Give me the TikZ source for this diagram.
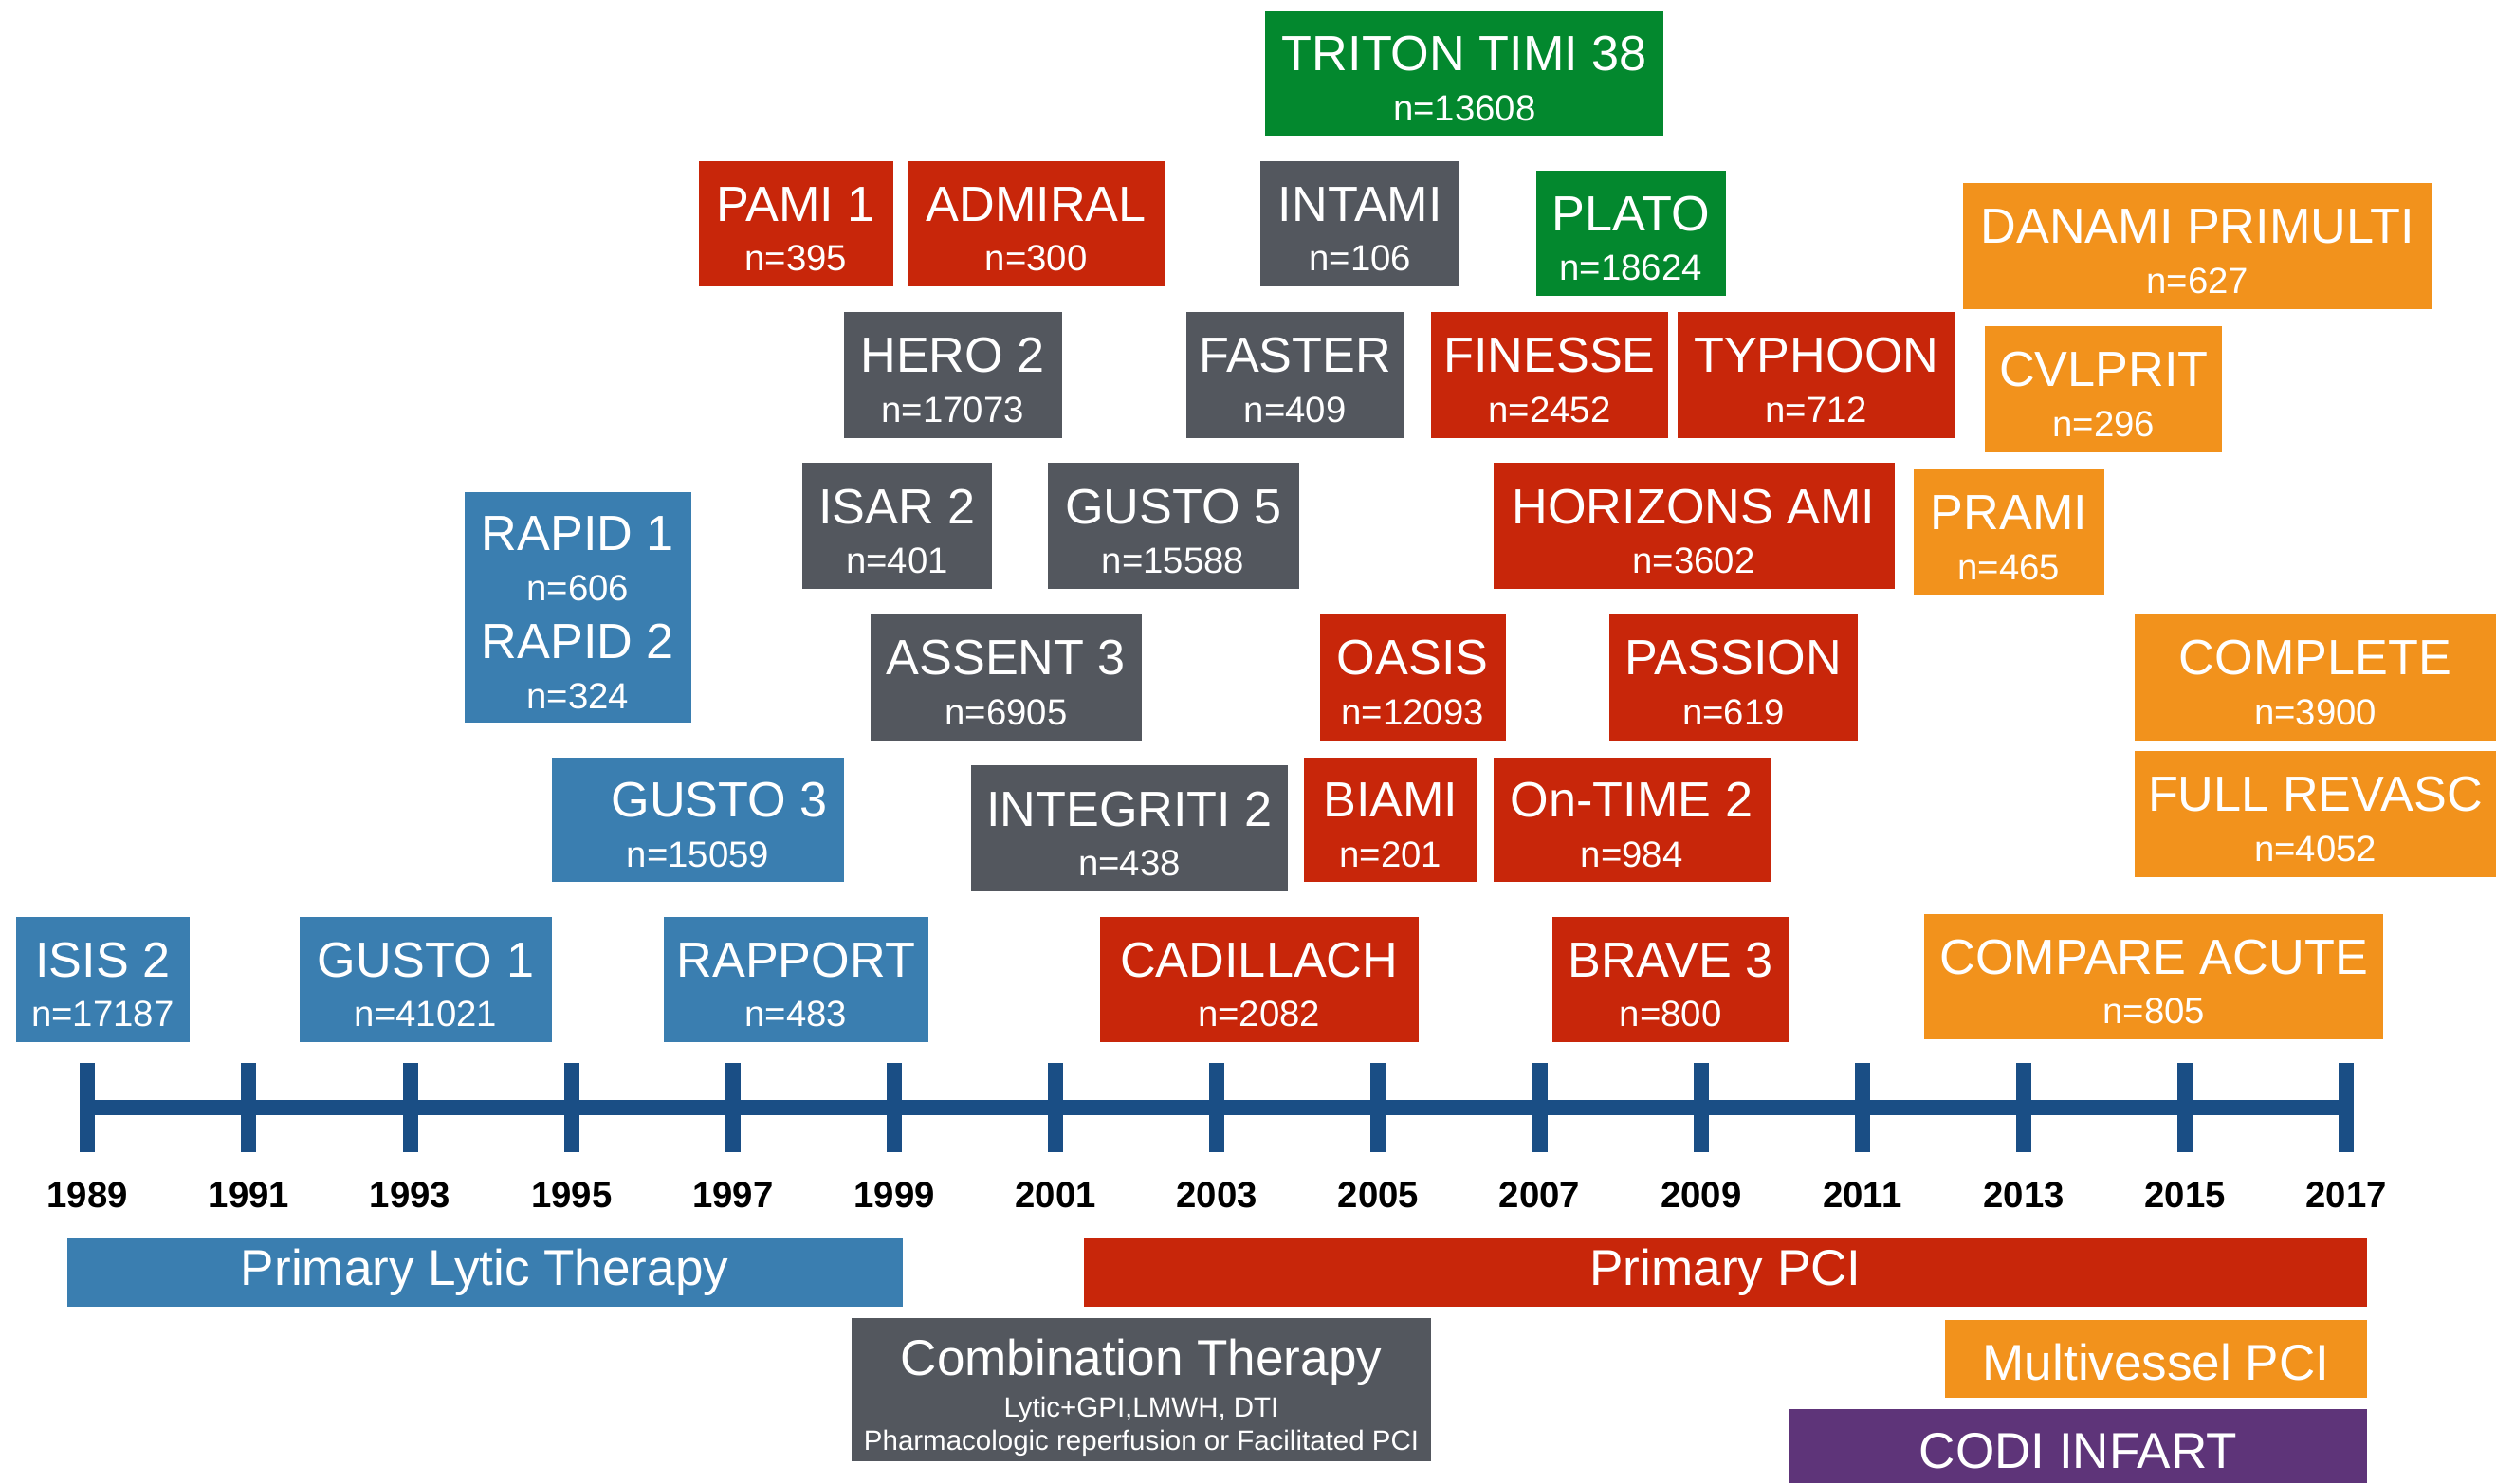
\documentclass[tikz,border=0pt]{standalone}
\usepackage{fontspec}
\setmainfont{Liberation Sans}
\usetikzlibrary{positioning}
\definecolor{lyblue}{HTML}{3A7EB0}
\definecolor{pcired}{HTML}{C8260A}
\definecolor{combgray}{HTML}{53575E}
\definecolor{pgreen}{HTML}{03882E}
\definecolor{mvorange}{HTML}{F2921C}
\definecolor{codipurple}{HTML}{5E3479}
\definecolor{axisblue}{HTML}{1A4E85}
\newlength{\upx}
\setlength{\upx}{0.02cm}
% trial name line, with a strut that pushes the text block down a little
\newcommand{\tname}[1]{{\fontsize{17.7}{17.8}\selectfont\rule{0pt}{16.1pt}#1}}

\begin{document}
\begin{tikzpicture}[x=0.02cm, y=-0.02cm,
    trial/.style={inner sep=0pt, text=white, align=center,
                  minimum height=79\upx, font=\fontsize{13}{17.8}\selectfont},
    wd/.style={minimum width=#1\upx},
    ht/.style={minimum height=#1\upx},
    era/.style={inner sep=0pt, text=white, align=center,
                font=\fontsize{18}{21}\selectfont},
    lytic/.style={fill=lyblue}, pci/.style={fill=pcired},
    combo/.style={fill=combgray}, ptwo/.style={fill=pgreen},
    multi/.style={fill=mvorange}, codi/.style={fill=codipurple},
    axisline/.style={draw=axisblue, line width=9.5\upx},
    year/.style={font=\fontsize{13}{15}\selectfont\bfseries}
]
  \useasboundingbox (0,0) rectangle (1568,932);

  % top rows
  \node[trial, ptwo, wd=250, ht=78] (triton) at (920,46) {\tname{TRITON TIMI 38}\\n=13608};
  \node[trial, pci, wd=122] (pami) at (500,140.5) {\tname{PAMI 1}\\n=395};
  \node[trial, pci, wd=162] (admiral) at (651,140.5) {\tname{ADMIRAL}\\n=300};
  \node[trial, combo, wd=125] (intami) at (854.5,140.5) {\tname{INTAMI}\\n=106};
  \node[trial, ptwo, wd=119] (plato) at (1024.5,146.5) {\tname{PLATO}\\n=18624};
  \node[trial, multi, wd=295] (danami) at (1380.5,154.5) {\tname{DANAMI PRIMULTI}\\n=627};

  \node[trial, combo, wd=137] (hero) at (598.5,235.5) {\tname{HERO 2}\\n=17073};
  \node[trial, combo, wd=137] (faster) at (813.5,235.5) {\tname{FASTER}\\n=409};
  \node[trial, pci, wd=149] (finesse) at (973.5,235.5) {\tname{FINESSE}\\n=2452};
  \node[trial, pci, wd=174] (typhoon) at (1141,235.5) {\tname{TYPHOON}\\n=712};
  \node[trial, multi, wd=149] (cvlprit) at (1321.5,244.5) {\tname{CVLPRIT}\\n=296};

  \node[trial, lytic, wd=142, ht=145] (rapid) at (363,381.5)
    {\tname{RAPID 1}\\n=606\\[3pt]\tname{RAPID 2}\\n=324};
  \node[trial, combo, wd=119] (isar) at (563.5,330.5) {\tname{ISAR 2}\\n=401};
  \node[trial, combo, wd=158] (gustofive) at (737,330.5) {\tname{GUSTO 5}\\n=15588};
  \node[trial, pci, wd=252] (horizons) at (1064,330.5) {\tname{HORIZONS AMI}\\n=3602};
  \node[trial, multi, wd=120] (prami) at (1262,334.5) {\tname{PRAMI}\\n=465};

  \node[trial, combo, wd=170] (assent) at (632,425.5) {\tname{ASSENT 3}\\n=6905};
  \node[trial, pci, wd=117] (oasis) at (887.5,425.5) {\tname{OASIS}\\n=12093};
  \node[trial, pci, wd=156] (passion) at (1089,425.5) {\tname{PASSION}\\n=619};
  \node[trial, multi, wd=227] (complete) at (1454.5,425.5) {\tname{COMPLETE}\\n=3900};

  \node[trial, lytic, wd=183, ht=78] (gustothree) at (438.5,515)
    {\hspace*{27\upx}\tname{GUSTO 3}\\n=15059};
  \node[trial, combo, wd=199] (integriti) at (709.5,520.5) {\tname{INTEGRITI 2}\\n=438};
  \node[trial, pci, wd=109, ht=78] (biami) at (873.5,515) {\tname{BIAMI}\\n=201};
  \node[trial, pci, wd=174, ht=78] (ontime) at (1025,515) {\tname{On-TIME 2}\\n=984};
  \node[trial, multi, wd=227] (fullrevasc) at (1454.5,511.5) {\tname{FULL REVASC}\\n=4052};

  \node[trial, lytic, wd=109] (isis) at (64.5,615.5) {\tname{ISIS 2}\\n=17187};
  \node[trial, lytic, wd=159] (gustoone) at (267.5,615.5) {\tname{GUSTO 1}\\n=41021};
  \node[trial, lytic, wd=166] (rapport) at (500,615.5) {\tname{RAPPORT}\\n=483};
  \node[trial, pci, wd=200] (cadillach) at (791,615.5) {\tname{CADILLACH}\\n=2082};
  \node[trial, pci, wd=149] (brave) at (1049.5,615.5) {\tname{BRAVE 3}\\n=800};
  \node[trial, multi, wd=288] (compare) at (1353,613.5) {\tname{COMPARE ACUTE}\\n=805};

  % time axis
  \foreach \yr [count=\i from 0] in {1989,1991,...,2017} {
    \coordinate (t\i) at ({55+101.36*\i},696);
    \draw[axisline] (t\i) ++(0,-28) -- ++(0,56);
    \node[year] (y\yr) at ({55+101.36*\i},751) {\yr};
  }
  \draw[axisline] (t0) -- (t14);

  % eras
  \node[era, lytic, wd=525, ht=43] (lyticbar) at (304.5,799.5) {Primary Lytic Therapy};
  \node[era, pci, wd=806, ht=43] (pcibar) at (1084,799.5) {Primary PCI};
  \node[era, combo, wd=364, ht=90, font=\fontsize{10}{12}\selectfont] (combobar) at (717,873)
    {{\fontsize{18}{21}\selectfont\rule{0pt}{18.7pt}Combination Therapy}\\[3pt]Lytic+GPI,LMWH, DTI\\Pharmacologic reperfusion or Facilitated PCI};
  \node[era, multi, wd=265, ht=49] (multibar) at (1354.5,853.5) {\rule{0pt}{15.4pt}Multivessel PCI};
  \node[era, codi, wd=363, ht=47] (codibar) at (1305.5,908.5) {\rule{0pt}{16.3pt}CODI INFART};
\end{tikzpicture}
\end{document}
